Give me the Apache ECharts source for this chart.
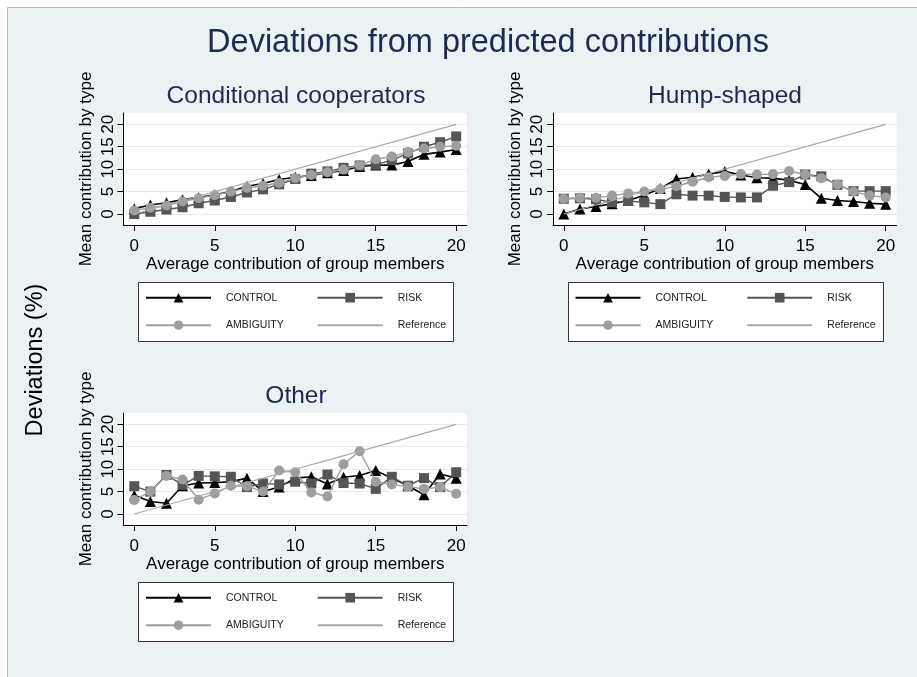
<!DOCTYPE html>
<html>
<head>
<meta charset="utf-8">
<script src="https://cdn.jsdelivr.net/npm/echarts@6/dist/echarts.min.js"></script>
<style>
  html, body { margin: 0; padding: 0; background: #ffffff; }
  #chart { width: 917px; height: 677px; }
</style>
</head>
<body>
<div id="chart"></div>
<script>
// Average contribution of group members (x categories)
const xValues = [0, 1, 2, 3, 4, 5, 6, 7, 8, 9, 10, 11, 12, 13, 14, 15, 16, 17, 18, 19, 20];
const tickValues = [0, 5, 10, 15, 20];

// 45-degree reference line end points
const refX = [0, 20];
const refY = [0, 20];

// Conditional cooperators
const condControl   = [1.2, 2.0, 2.5, 3.2, 3.7, 4.3, 5.0, 6.2, 6.8, 7.7, 8.2, 8.6, 9.2, 9.7, 10.6, 10.9, 10.9, 11.7, 13.3, 13.8, 14.4];
const condRisk      = [0.0, 0.5, 1.0, 1.5, 2.4, 3.0, 3.8, 4.8, 5.5, 6.6, 7.8, 9.0, 9.5, 10.3, 10.8, 11.0, 12.0, 13.5, 15.0, 16.0, 17.3];
const condAmbiguity = [0.8, 1.4, 1.9, 2.8, 3.5, 4.2, 5.0, 5.8, 6.3, 6.9, 8.0, 8.7, 9.3, 9.9, 10.9, 12.2, 12.8, 13.8, 14.6, 15.0, 15.2];

// Hump-shaped
const humpControl   = [0.0, 1.1, 1.7, 2.3, 3.0, 4.2, 5.7, 7.8, 8.2, 8.9, 9.5, 8.7, 8.1, 8.0, 7.5, 6.6, 3.5, 3.0, 2.8, 2.4, 2.2];
const humpRisk      = [3.4, 3.5, 3.3, 2.6, 2.9, 2.6, 2.2, 4.4, 4.1, 4.1, 3.8, 3.7, 3.7, 6.3, 7.1, 8.8, 8.4, 6.5, 5.1, 5.1, 5.1];
const humpAmbiguity = [3.4, 3.6, 3.6, 4.1, 4.6, 5.0, 5.5, 6.2, 7.2, 8.2, 8.5, 8.9, 8.8, 8.9, 9.6, 8.8, 8.0, 6.6, 5.0, 4.1, 3.7];

// Other
const otherControl   = [4.2, 2.8, 2.4, 6.3, 6.9, 7.0, 7.2, 8.0, 5.0, 6.0, 8.0, 8.3, 6.7, 8.2, 8.6, 9.7, 8.0, 6.3, 4.3, 8.9, 8.0];
const otherRisk      = [6.2, 5.0, 8.7, 6.5, 8.5, 8.4, 8.3, 6.0, 6.8, 6.6, 7.2, 6.8, 8.8, 6.9, 6.8, 5.6, 8.3, 6.3, 8.0, 6.0, 9.3];
const otherAmbiguity = [3.1, 5.0, 8.5, 7.7, 3.2, 4.6, 6.3, 6.2, 5.0, 9.7, 9.3, 4.8, 3.9, 11.1, 14.0, 7.2, 6.6, 6.1, 5.6, 6.0, 4.5];

const panelTitles = ['Conditional cooperators', 'Hump-shaped', 'Other'];
const seriesNames = ['CONTROL', 'RISK', 'AMBIGUITY', 'Reference'];
const mainTitle = 'Deviations from predicted contributions';
const sideTitle = 'Deviations (%)';
const yAxisTitle = 'Mean contribution by type';
const xAxisTitle = 'Average contribution of group members';

const panelData = [
  [condControl, condRisk, condAmbiguity],
  [humpControl, humpRisk, humpAmbiguity],
  [otherControl, otherRisk, otherAmbiguity]
];

// Layout of each panel (plot region + legend box)
const panels = [
  { left: 123.5, top: 113, titleX: 296, titleY: 96,  boxX: 138.3, boxY: 281.7 },
  { left: 553,   top: 113, titleX: 725, titleY: 96,  boxX: 567.8, boxY: 281.7 },
  { left: 123.5, top: 413, titleX: 296, titleY: 396, boxX: 138.3, boxY: 581.7 }
];
const plotW = 343.5, plotH = 112;
const boxW = 314.7, boxH = 59;

const FONT = '"Liberation Sans", Arial, Helvetica, sans-serif';
const TITLE_COLOR = '#1c2b4f';
const styles = [
  { color: '#000000', symbol: 'triangle', size: 11, width: 1.6 },
  { color: '#555555', symbol: 'rect',     size: 10, width: 1.4 },
  { color: '#9e9e9e', symbol: 'circle',   size: 10, width: 1.4 }
];

const grids = [], xAxes = [], yAxes = [], series = [], legends = [], graphics = [];

// figure background
graphics.push({
  type: 'rect', z: -100, silent: true,
  shape: { x: 7.5, y: 7.5, width: 930, height: 690 },
  style: { fill: '#eaf2f3', stroke: '#bdbdbd', lineWidth: 1 }
});
graphics.push({
  type: 'text', x: 488, y: 43.5,
  style: { text: mainTitle, font: '32.5px ' + FONT, fill: TITLE_COLOR, textAlign: 'center', textVerticalAlign: 'middle' }
});
graphics.push({
  type: 'text', x: 36, y: 360, rotation: Math.PI / 2,
  style: { text: sideTitle, font: '23.5px ' + FONT, fill: '#000000', textAlign: 'center', textVerticalAlign: 'middle' }
});

panels.forEach((p, i) => {
  grids.push({ left: p.left, top: p.top, width: plotW, height: plotH, show: true, backgroundColor: '#ffffff', borderWidth: 0 });
  xAxes.push({
    type: 'value', gridIndex: i, min: -0.67, max: 20.67,
    name: xAxisTitle, nameLocation: 'middle', nameGap: 27.5,
    nameTextStyle: { fontFamily: FONT, fontSize: 17, color: '#000' },
    axisLine: { show: true, onZero: false, lineStyle: { color: '#000', width: 1 } },
    axisTick: { show: true, length: 6, customValues: tickValues, lineStyle: { color: '#000' } },
    axisLabel: { customValues: tickValues, margin: 13, fontFamily: FONT, fontSize: 17, color: '#000' },
    splitLine: { show: false }
  });
  yAxes.push({
    type: 'value', gridIndex: i, min: -2.45, max: 22.52,
    name: yAxisTitle, nameLocation: 'middle', nameGap: 29, nameRotate: 90,
    nameTextStyle: { fontFamily: FONT, fontSize: 17, color: '#000' },
    axisLine: { show: true, onZero: false, lineStyle: { color: '#000', width: 1 } },
    axisTick: { show: true, length: 6, customValues: tickValues, lineStyle: { color: '#000' } },
    axisLabel: { customValues: tickValues, rotate: 90, margin: 7, fontFamily: FONT, fontSize: 17, color: '#000' },
    splitLine: { show: true, lineStyle: { color: '#e2ebee', width: 1.2 } }
  });

  panelData[i].forEach((vals, k) => {
    const s = styles[k];
    series.push({
      name: seriesNames[k], type: 'line', xAxisIndex: i, yAxisIndex: i,
      data: xValues.map((x, j) => [x, vals[j]]),
      symbol: s.symbol, symbolSize: s.size, showAllSymbol: true,
      lineStyle: { color: s.color, width: s.width },
      itemStyle: { color: s.color },
      animation: false, silent: true, z: 2 + k
    });
  });
  series.push({
    name: seriesNames[3], type: 'line', xAxisIndex: i, yAxisIndex: i,
    data: refX.map((x, j) => [x, refY[j]]),
    symbol: 'none', lineStyle: { color: '#a9a9a9', width: 1.2 },
    itemStyle: { color: '#a9a9a9' },
    animation: false, silent: true, z: 6
  });

  graphics.push({
    type: 'text', x: p.titleX, y: p.titleY,
    style: { text: panelTitles[i], font: '24.5px ' + FONT, fill: TITLE_COLOR, textAlign: 'center', textVerticalAlign: 'middle' }
  });
  graphics.push({
    type: 'rect', z: 1, silent: true,
    shape: { x: Math.round(p.boxX) + 0.5, y: Math.round(p.boxY) + 0.5, width: Math.round(boxW), height: Math.round(boxH) },
    style: { fill: '#ffffff', stroke: '#333333', lineWidth: 1 }
  });

  const legendBase = {
    orient: 'vertical', itemWidth: 65, itemHeight: 12, itemGap: 16.5, padding: 0,
    selectedMode: false, z: 10,
    textStyle: { fontFamily: FONT, fontSize: 10.5, color: '#222', padding: [0, 0, 0, 10] }
  };
  legends.push(Object.assign({}, legendBase, {
    left: p.boxX + 6.7, top: p.boxY + 10.5, data: [seriesNames[0], seriesNames[2]]
  }));
  legends.push(Object.assign({}, legendBase, {
    left: p.boxX + 178.4, top: p.boxY + 10.5,
    data: [seriesNames[1], { name: seriesNames[3], itemStyle: { opacity: 0 } }]
  }));
});

const chart = echarts.init(document.getElementById('chart'), null, { renderer: 'canvas' });
chart.setOption({
  backgroundColor: 'transparent',
  animation: false,
  grid: grids,
  xAxis: xAxes,
  yAxis: yAxes,
  legend: legends,
  series: series,
  graphic: { elements: graphics }
});
</script>
</body>
</html>
